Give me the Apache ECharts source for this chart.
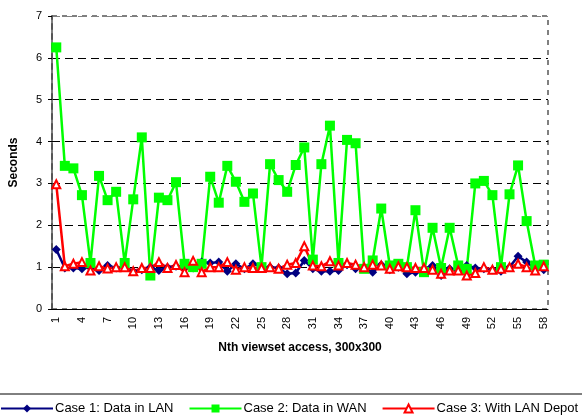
<!DOCTYPE html>
<html><head><meta charset="utf-8">
<script src="https://cdn.jsdelivr.net/npm/echarts@6/dist/echarts.min.js"></script>
<style>html,body{margin:0;padding:0;background:#fff}#c{width:582px;height:420px}</style>
</head><body><div id="c"></div>
<script>
var categories = [];
for (var k = 1; k <= 58; k++) categories.push(String(k));
var case1LAN = [1.42,0.98,0.98,0.96,1.0,0.92,1.04,0.98,1.02,0.9,0.94,1.0,0.92,1.0,1.02,1.0,0.98,1.12,1.1,1.12,
  0.9,1.08,0.96,1.08,1.0,1.0,0.98,0.84,0.86,1.16,0.96,0.9,0.9,0.92,1.06,0.96,0.98,0.88,1.06,0.94,
  1.0,0.84,0.88,0.96,1.04,0.8,0.96,0.92,1.04,0.98,0.96,0.94,0.9,1.0,1.26,1.12,0.96,0.94];
var case2WAN = [6.25,3.42,3.36,2.72,1.1,3.18,2.6,2.8,1.1,2.62,4.1,0.8,2.66,2.6,3.03,1.08,1.0,1.08,3.16,2.54,
  3.42,3.04,2.56,2.76,1.0,3.46,3.08,2.8,3.44,3.86,1.18,3.46,4.38,1.1,4.04,3.96,0.96,1.16,2.4,1.04,
  1.08,1.0,2.36,0.88,1.94,0.98,1.94,1.04,0.96,3.0,3.06,2.72,1.0,2.74,3.43,2.1,1.04,1.06];
var case3Depot = [2.98,1.02,1.08,1.12,0.92,1.02,0.97,1.0,1.0,0.9,0.98,0.98,1.12,0.98,1.05,0.88,1.15,0.88,1.0,1.0,
  1.12,0.94,1.0,0.98,0.98,1.0,0.96,1.06,1.1,1.5,1.04,1.02,1.14,1.04,1.1,1.06,1.0,1.06,1.04,0.96,
  1.02,1.0,0.98,0.98,0.94,0.84,0.92,0.92,0.8,0.86,1.0,0.94,0.96,1.0,1.08,1.0,0.92,1.02];
var yTicks = [0,1,2,3,4,5,6,7];

var chart = echarts.init(document.getElementById('c'));
var font = 'Liberation Sans, Arial, sans-serif';
chart.setOption({
  animation: false,
  textStyle: {fontFamily: font},
  grid: {left: 47, right: 34, top: 16, bottom: 111, show: true, borderColor: '#808080', borderWidth: 2, borderType: [5,5]},
  xAxis: {
    type: 'category', data: categories, boundaryGap: true,
    name: 'Nth viewset access, 300x300', nameLocation: 'middle', nameGap: 33,
    nameTextStyle: {fontWeight: 'bold', fontSize: 12, color: '#000', fontFamily: font},
    axisLine: {lineStyle: {color: '#000', width: 1}},
    axisTick: {interval: 0, length: 4, lineStyle: {color: '#000'}},
    axisLabel: {interval: 2, rotate: 90, fontSize: 11, color: '#000', margin: 8, fontFamily: font}
  },
  yAxis: {
    type: 'value', min: yTicks[0], max: yTicks[yTicks.length-1], interval: 1,
    name: 'Seconds', nameLocation: 'middle', nameGap: 32, nameRotate: 90,
    nameTextStyle: {fontWeight: 'bold', fontSize: 12, color: '#000', fontFamily: font},
    axisLine: {show: true, lineStyle: {color: '#555', width: 2, type: [5,5]}},
    axisTick: {show: true, length: 4, lineStyle: {color: '#000'}},
    axisLabel: {fontSize: 11, color: '#000', margin: 10, fontFamily: font},
    splitLine: {show: true, lineStyle: {color: ['#000','#000','#000','#000','#000','#000','#000','#808080'], type: [8,5], width: 1}}
  },
  legend: {
    left: 0, top: 402, itemWidth: 52, itemHeight: 10, itemGap: 15, padding: 0,
    textStyle: {fontSize: 13, color: '#000', fontFamily: font, padding: [0,0,0,-3]},
    data: ['Case 1: Data in LAN', 'Case 2: Data in WAN', 'Case 3: With LAN Depot']
  },
  graphic: [{type: 'line', shape: {x1: 0, y1: 394, x2: 582, y2: 394}, style: {stroke: '#000', lineWidth: 1}}],
  series: [
    {name: 'Case 1: Data in LAN', type: 'line', data: case1LAN, symbol: 'diamond', symbolSize: 9, showAllSymbol: true,
     lineStyle: {color: '#000080', width: 2.5}, itemStyle: {color: '#000080'}},
    {name: 'Case 2: Data in WAN', type: 'line', data: case2WAN, symbol: 'rect', symbolSize: 10, showAllSymbol: true,
     lineStyle: {color: '#00ff00', width: 2.5}, itemStyle: {color: '#00ff00'}},
    {name: 'Case 3: With LAN Depot', type: 'line', data: case3Depot, symbol: 'triangle', symbolSize: 8, showAllSymbol: true,
     lineStyle: {color: '#ff0000', width: 2.5}, itemStyle: {color: '#ffffff', borderColor: '#ff0000', borderWidth: 2}}
  ]
});
</script>
</body></html>
